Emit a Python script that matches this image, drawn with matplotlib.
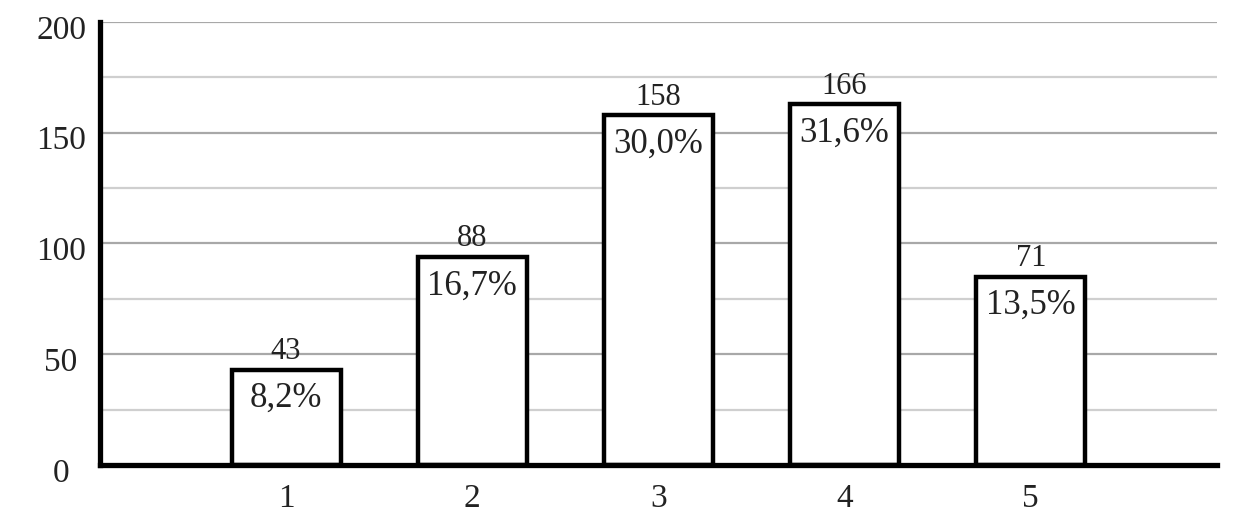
import matplotlib.pyplot as plt
import matplotlib.transforms as mtransforms

# bar heights as drawn, and the labels printed on them
groups = [1, 2, 3, 4, 5]
heights = [43, 94, 158, 163, 85]
counts = ["43", "88", "158", "166", "71"]
shares = ["8,2%", "16,7%", "30,0%", "31,6%", "13,5%"]

plt.rcParams["font.family"] = ["Liberation Serif", "DejaVu Serif"]

fig = plt.figure(figsize=(12.4, 5.32), dpi=100)
ax = fig.add_axes([0.0806, 0.126, 0.9008, 0.8327])

ax.set_axisbelow(True)
for y in range(25, 201, 25):
    col = "#a8a8a8" if y % 50 == 0 else "#cfcfcf"
    ax.axhline(y, color=col, linewidth=1.6, zorder=0)

ax.bar(groups, heights, width=0.585, color="white", edgecolor="black", linewidth=3.2, zorder=2)

for x, h, c, s in zip(groups, heights, counts, shares):
    ax.annotate(c, (x, h), xytext=(0, 7.5), textcoords="offset points",
                ha="center", va="baseline", fontsize=22, color="#222222")
    ax.annotate(s, (x, h), xytext=(0, -27), textcoords="offset points",
                ha="center", va="baseline", fontsize=25, color="#222222")

ax.set_xlim(0, 6)
ax.set_ylim(0, 200)
ax.set_xticks(groups)
ax.set_yticks([0, 50, 100, 150, 200])
ax.tick_params(axis="both", length=0, labelsize=24, colors="#222222")
ax.tick_params(axis="x", pad=13)
ax.tick_params(axis="y", pad=28)

# y labels are centred in the margin, a little below their grid lines
offset = mtransforms.ScaledTranslation(0, -5 / 100, fig.dpi_scale_trans)
for lab in ax.get_yticklabels():
    lab.set_horizontalalignment("center")
    lab.set_transform(lab.get_transform() + offset)

for side in ["top", "right"]:
    ax.spines[side].set_visible(False)
for side in ["left", "bottom"]:
    ax.spines[side].set_linewidth(3.8)
    ax.spines[side].set_color("black")
    ax.spines[side].set_zorder(3)

fig.savefig("out.png", dpi=100, facecolor="white")
